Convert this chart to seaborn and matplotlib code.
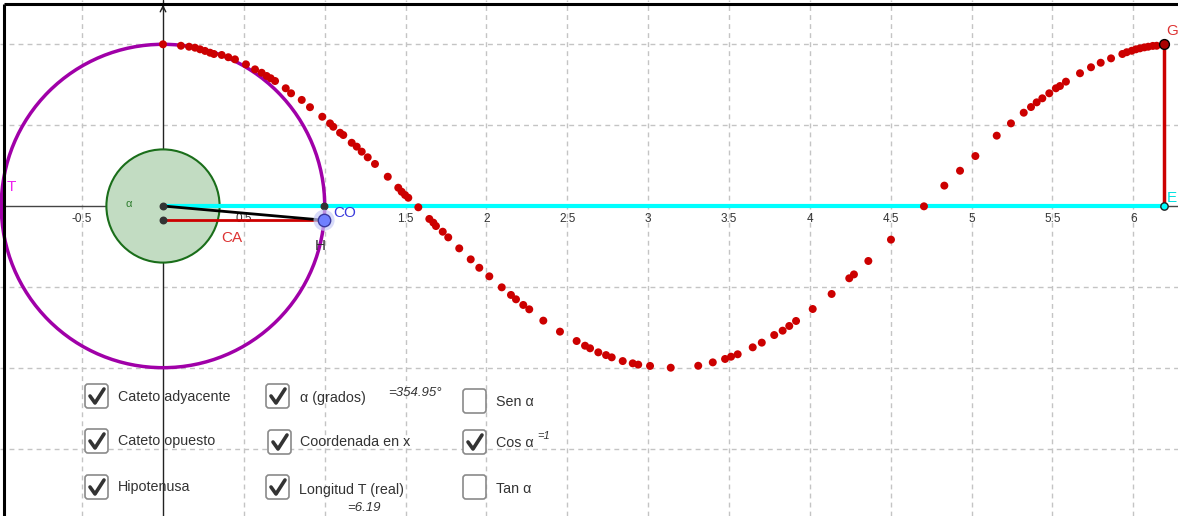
import matplotlib.pyplot as plt
import matplotlib.patches as mpatches
import seaborn as sns

# puntos (x, cos x)
cos_x = [0.00, 0.111, 0.161, 0.198, 0.229, 0.260, 0.291, 0.315, 0.363, 0.404,
         0.445, 0.513, 0.569, 0.610, 0.641, 0.666, 0.693, 0.759, 0.792, 0.858,
         0.909, 0.985, 1.033, 1.053, 1.095, 1.115, 1.167, 1.198, 1.229, 1.266,
         1.311, 1.390, 1.455, 1.476, 1.497, 1.517, 1.579, 1.647, 1.672, 1.688,
         1.730, 1.764, 1.832, 1.903, 1.956, 2.018, 2.095, 2.152, 2.183, 2.228,
         2.265, 2.352, 2.455, 2.558, 2.610, 2.641, 2.692, 2.740, 2.775, 2.843,
         2.905, 2.939, 3.012, 3.140, 3.310, 3.400, 3.476, 3.513, 3.554, 3.647,
         3.703, 3.780, 3.832, 3.873, 3.915, 4.018, 4.135, 4.244, 4.273, 4.362,
         4.502, 4.706, 4.832, 4.929, 5.024, 5.156, 5.244, 5.323, 5.368, 5.403,
         5.438, 5.481, 5.522, 5.547, 5.584, 5.671, 5.739, 5.799, 5.863, 5.933,
         5.960, 5.991, 6.017, 6.042, 6.069, 6.093, 6.121, 6.145]
cos_y = [1.000, 0.991, 0.985, 0.979, 0.969, 0.959, 0.948, 0.940, 0.934, 0.920,
         0.907, 0.876, 0.845, 0.824, 0.804, 0.790, 0.773, 0.728, 0.697, 0.656,
         0.611, 0.552, 0.511, 0.490, 0.453, 0.439, 0.391, 0.367, 0.336, 0.301,
         0.260, 0.181, 0.113, 0.088, 0.068, 0.051, -0.008, -0.080, -0.103, -0.124,
         -0.159, -0.194, -0.262, -0.330, -0.382, -0.435, -0.503, -0.550, -0.577, -0.612,
         -0.639, -0.709, -0.777, -0.835, -0.864, -0.880, -0.905, -0.922, -0.936, -0.959,
         -0.973, -0.981, -0.989, -1.000, -0.988, -0.967, -0.946, -0.932, -0.917, -0.874,
         -0.845, -0.798, -0.771, -0.742, -0.711, -0.637, -0.544, -0.447, -0.423, -0.340,
         -0.208, -0.002, 0.126, 0.218, 0.309, 0.435, 0.511, 0.577, 0.612, 0.641,
         0.666, 0.697, 0.728, 0.742, 0.769, 0.821, 0.858, 0.886, 0.913, 0.940,
         0.951, 0.960, 0.969, 0.975, 0.981, 0.985, 0.990, 0.991]

tick_vals = [-0.5, 0.5, 1.5, 2, 2.5, 3, 3.5, 4, 4.5, 5, 5.5, 6]
tick_labels = ['-0.5', '0.5', '1.5', '2', '2.5', '3', '3.5', '4', '4.5', '5', '5.5', '6']

h_x, h_y = 0.996, -0.088      # punto H
t_len = 6.19                  # longitud T
g_y = 1.0                     # cos alpha
r_big, r_small = 1.0, 0.35

checks = [("Cateto adyacente", True), ("Cateto opuesto", True), ("Hipotenusa", True),
          ("\u03b1 (grados)", True), ("Coordenada en x", True), ("Longitud T (real)", True),
          ("Sen \u03b1", False), ("Cos \u03b1", True), ("Tan \u03b1", False)]

sns.set_style("white")
plt.rcParams['font.family'] = ['Liberation Sans', 'DejaVu Sans']

W, H = 1178, 516
fig = plt.figure(figsize=(W / 100, H / 100), dpi=100)
ax = fig.add_axes([0, 0, 1, 1])
s = 161.7
ax.set_xlim(-163 / s, (W - 163) / s)
ax.set_ylim(-(H - 206) / s, 206 / s)
ax.set_aspect('auto')
ax.axis('off')

# cuadricula
for v in [-0.5, 0.5, 1, 1.5, 2, 2.5, 3, 3.5, 4, 4.5, 5, 5.5, 6]:
    ax.axvline(v, color='#c4c4c4', lw=1, ls=(0, (3.5, 3)), zorder=0)
for v in [-1.5, -1, -0.5, 0.5, 1]:
    ax.axhline(v, color='#c4c4c4', lw=1, ls=(0, (3.5, 3)), zorder=0)

# ejes
ax.axhline(0, color='#444444', lw=1, zorder=1)
ax.axvline(0, color='#222222', lw=1, zorder=1)
ax.annotate('', xy=(0, 1.262), xytext=(0, 1.20),
            arrowprops=dict(arrowstyle='->', color='#222222', lw=1), zorder=1)
for v, lab in zip(tick_vals, tick_labels):
    ax.text(v, -0.045, lab, ha='center', va='top', fontsize=8.5, color='#333333', zorder=1)
ax.text(-0.035, -0.05, '0', ha='right', va='top', fontsize=8.5, color='#555555', zorder=1)

# circulos
ax.add_patch(mpatches.Circle((0, 0), r_small, facecolor='#c2dcc2', edgecolor='#1a6e1a', lw=1.5, zorder=2))
ax.add_patch(mpatches.Circle((0, 0), r_big, facecolor='none', edgecolor='#a000a8', lw=2.5, zorder=3))
ax.text(-0.21, 0.01, '\u03b1', color='#2e7d2e', fontsize=8, ha='center', va='center', zorder=3)
ax.text(-0.97, 0.12, 'T', color='#ee22ee', fontsize=11, ha='left', va='center', zorder=3)

# segmentos
ax.plot([0, t_len], [0, 0], color='#00ffff', lw=3, zorder=4)
ax.plot([0, h_x], [h_y, h_y], color='#cc0000', lw=2, zorder=4)
ax.plot([0, h_x], [0, h_y], color='black', lw=2, zorder=5)
ax.plot([t_len, t_len], [0, g_y], color='#cc0000', lw=2.5, zorder=4)

# puntos de la curva
sns.scatterplot(x=cos_x, y=cos_y, ax=ax, color='#cc0000', s=33, edgecolor='none',
                linewidth=0, zorder=6)

# puntos auxiliares
ax.scatter([0, 0, h_x], [0, h_y, 0], s=22, color='#333333', zorder=7)
ax.scatter([h_x], [h_y], s=230, color='#c8ccf8', alpha=0.7, edgecolor='none', zorder=7)
ax.scatter([h_x], [h_y], s=80, color='#7080ff', edgecolor='#3a3aa0', lw=1, zorder=8)
ax.scatter([t_len], [0], s=28, color='#00ffff', edgecolor='#222222', lw=1, zorder=8)
ax.scatter([t_len], [g_y], s=50, color='#aa0000', edgecolor='black', lw=1, zorder=8)

ax.text(1.05, -0.045, 'CO', color='#3b3bdc', fontsize=11, ha='left', va='center', zorder=9)
ax.text(0.36, -0.195, 'CA', color='#dd3333', fontsize=11, ha='left', va='center', zorder=9)
ax.text(0.97, -0.245, 'H', color='#333333', fontsize=11, ha='center', va='center', zorder=9)
ax.text(6.205, 1.08, 'G', color='#dd3333', fontsize=11, ha='left', va='center', zorder=9)
ax.text(6.205, 0.05, 'E', color='#00e0e0', fontsize=11, ha='left', va='center', zorder=9)

# marco
ax.plot([-159 / s, (W - 163) / s], [202 / s, 202 / s], color='black', lw=2.2, zorder=10,
        solid_capstyle='butt')
ax.plot([-159 / s, -159 / s], [202 / s, -(H - 206) / s], color='black', lw=2.2, zorder=10,
        solid_capstyle='butt')

# casillas (coordenadas en pixeles)
ui = fig.add_axes([0, 0, 1, 1])
ui.set_xlim(0, W)
ui.set_ylim(H, 0)
ui.axis('off')
ui.patch.set_alpha(0)

box_pos = [(85, 384), (85, 429), (85, 475), (266, 384), (268, 430), (266, 475),
           (463, 389), (463, 430), (463, 475)]
text_pos = [(118, 397), (118, 441), (118, 487), (300, 398), (300, 442), (299, 490),
            (496, 402), (496, 443), (496, 489)]
for (lab, on), (bx, by), (tx, ty) in zip(checks, box_pos, text_pos):
    ui.add_patch(mpatches.FancyBboxPatch((bx, by), 23, 24,
                                         boxstyle='round,pad=0,rounding_size=3',
                                         facecolor='white', edgecolor='#8a8a8a', lw=1.2))
    if on:
        ui.plot([bx + 5, bx + 10, bx + 19], [by + 12, by + 19, by + 5],
                color='#333333', lw=2.6, solid_capstyle='round', solid_joinstyle='round')
    ui.text(tx, ty, lab, fontsize=10.3, color='#333333', ha='left', va='center')

ui.text(388, 393, '=%.2f\u00b0' % 354.95, fontsize=9.5, style='italic', color='#333333',
        ha='left', va='center')
ui.text(537, 436, '=%g' % g_y, fontsize=8, style='italic', color='#333333',
        ha='left', va='center')
ui.text(347, 508, '=%.2f' % t_len, fontsize=9.5, style='italic', color='#333333',
        ha='left', va='center')

fig.savefig('out.png', dpi=100)
